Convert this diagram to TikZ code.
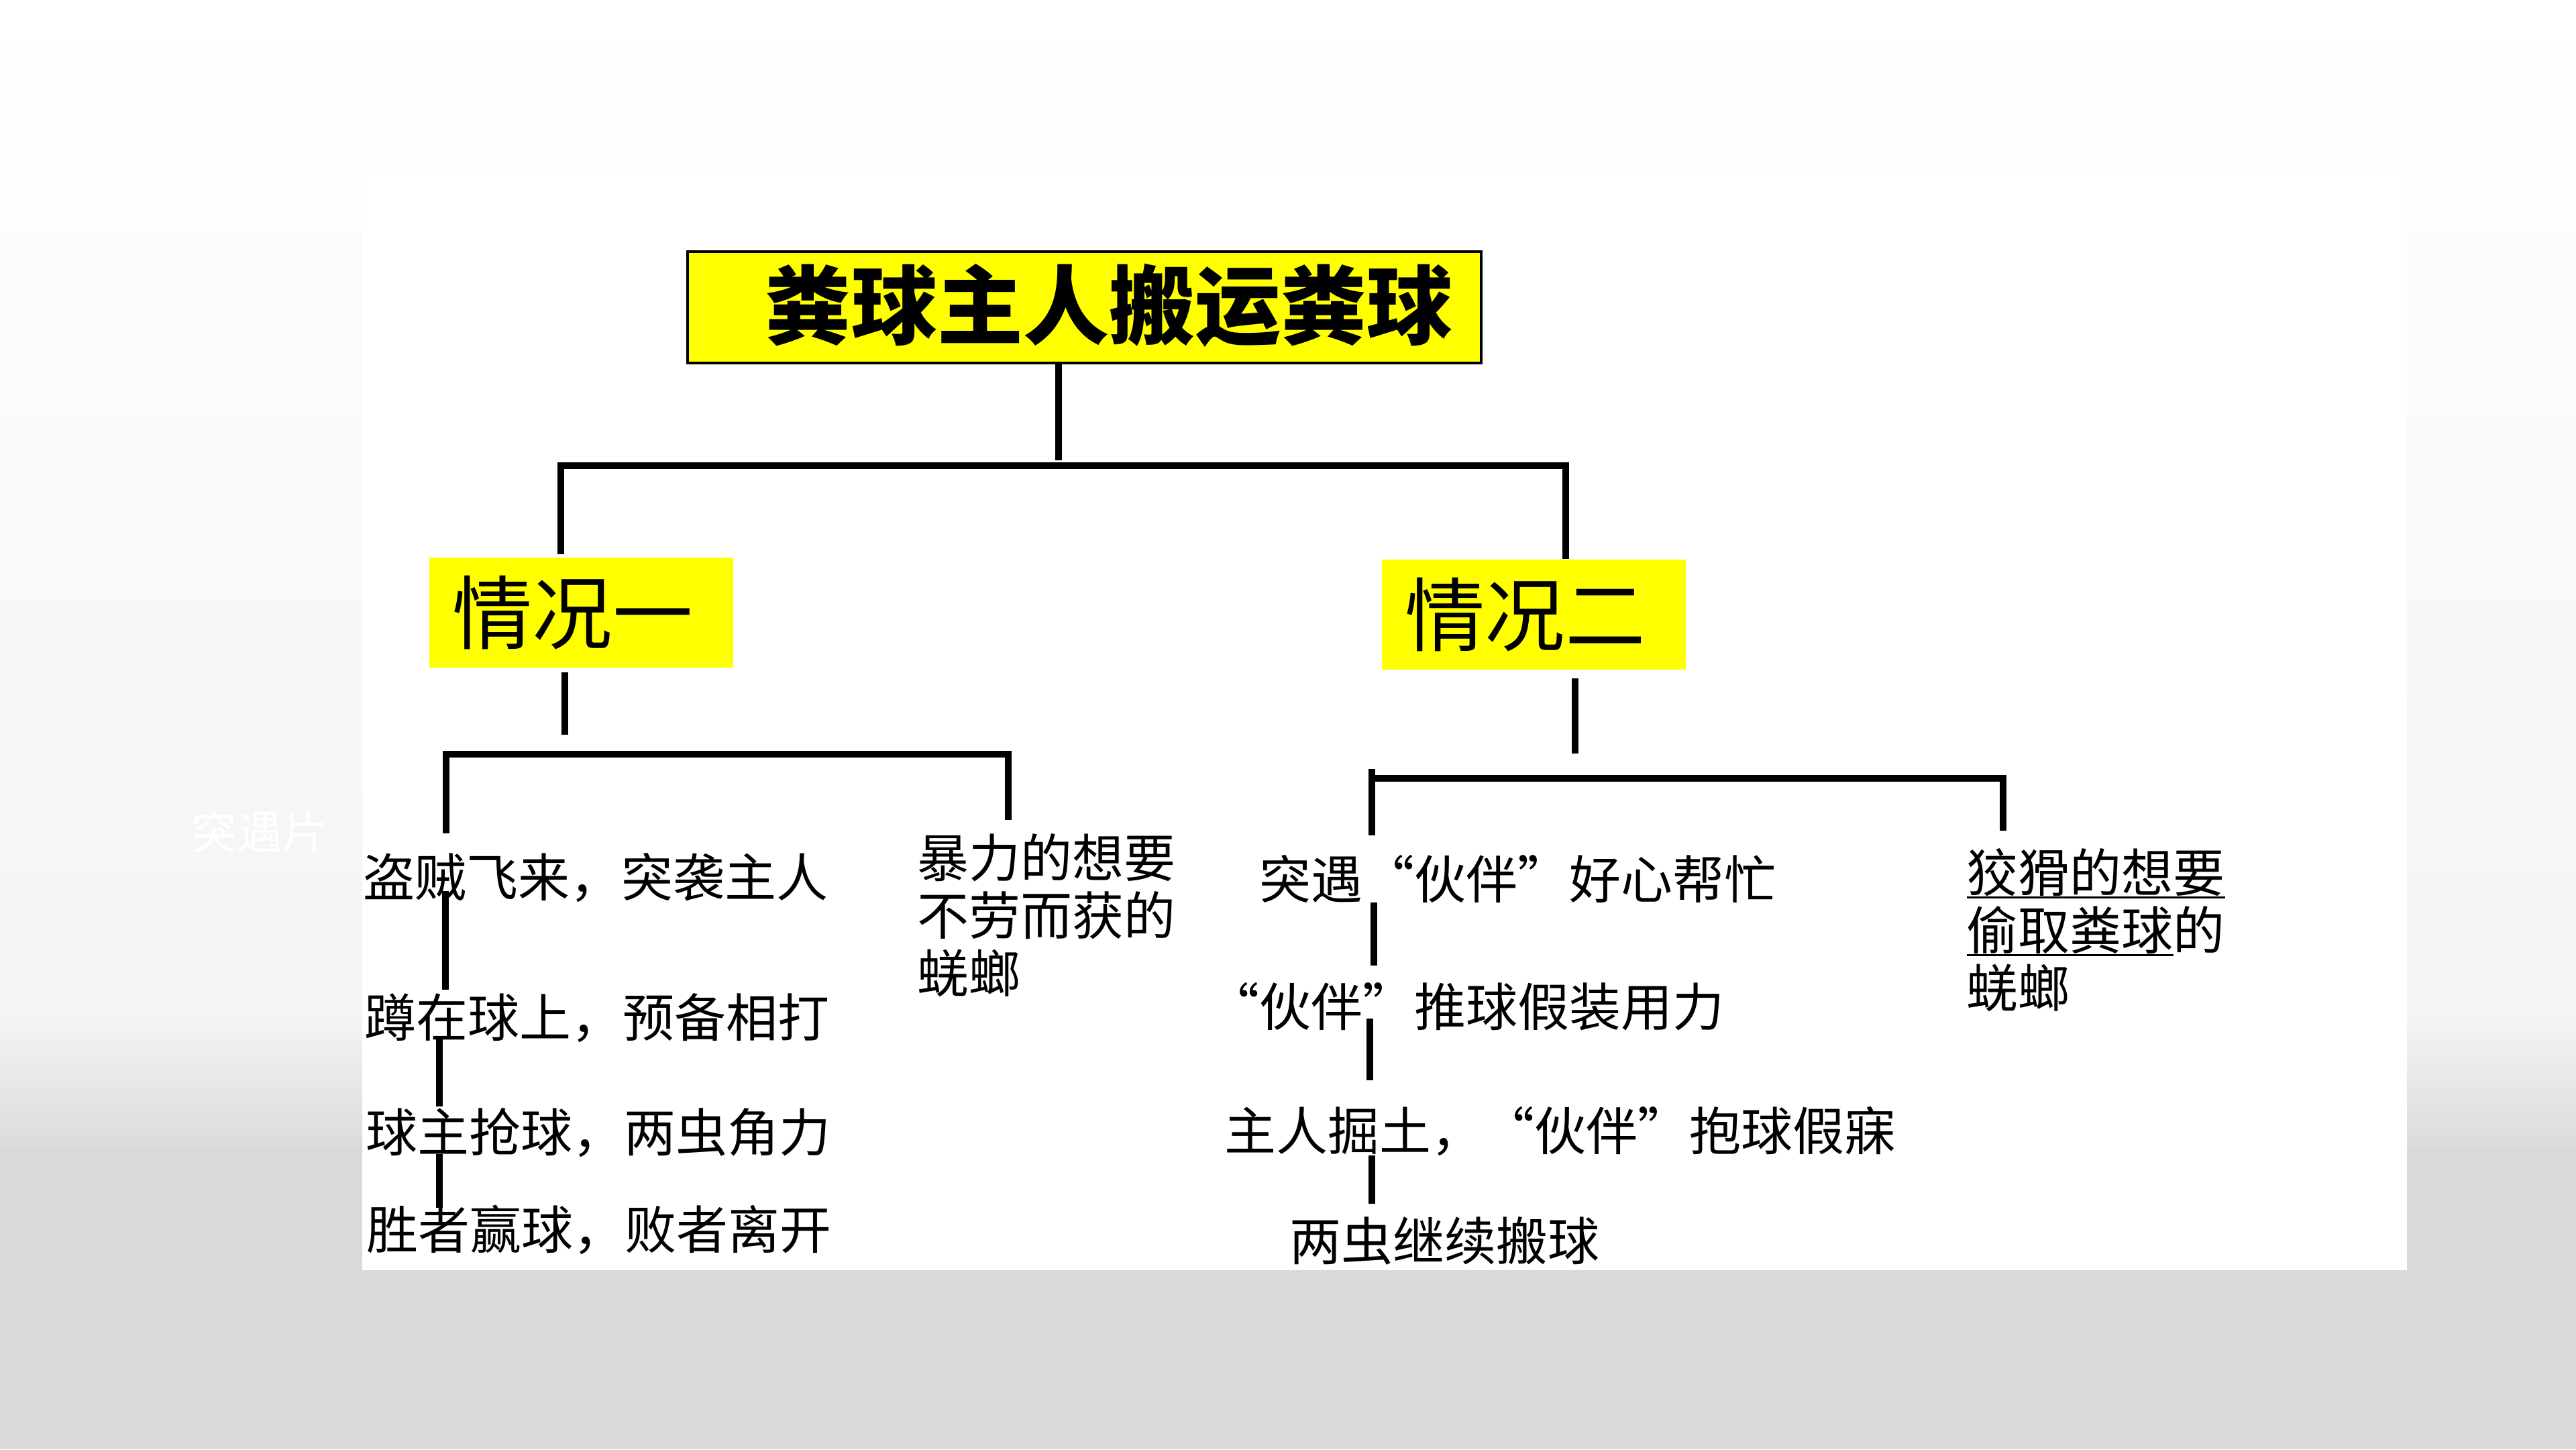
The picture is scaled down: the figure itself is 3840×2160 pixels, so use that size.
\documentclass[tikz,border=0pt]{standalone}
\usepackage{fontspec}
\newfontfamily\cjk{Noto Sans CJK SC}
\definecolor{caseyellow}{HTML}{FFFF00}
\definecolor{bgA}{HTML}{F4F4F4}
\definecolor{bgB}{HTML}{DBDBDB}
\definecolor{bgC}{HTML}{D9D9D9}
\newcommand\myul[1]{\setbox0\hbox{#1}\rlap{\rule[-0.13em]{\wd0}{1pt}}\box0}
\begin{document}
\begin{tikzpicture}[x=0.01cm,y=-0.01cm,
  conn/.style={line width=2.6pt, line join=miter, line cap=butt},
  bodytext/.style={font=\cjk\fontsize{21.9pt}{24.5pt}\selectfont, anchor=west, inner sep=0pt, align=left},
  casebox/.style={fill=caseyellow, minimum width=4.53cm, minimum height=1.64cm, inner sep=0pt, font=\cjk\fontsize{34pt}{40pt}\selectfont},
  titlebox/.style={draw=black, line width=1.1pt, fill=caseyellow, minimum width=11.83cm, minimum height=1.66cm, inner sep=0pt},
  titletext/.style={font=\cjk\bfseries\fontsize{36.4pt}{40pt}\selectfont, inner sep=0pt},
]
\useasboundingbox (0,0) rectangle (3840,2160);
% background
\shade[top color=white, bottom color=bgA] (0,0) rectangle (3840,1515);
\shade[top color=bgA, bottom color=bgB] (0,1515) rectangle (3840,1710);
\fill[bgC] (0,1710) rectangle (3840,2160);
\fill[white] (540,262) rectangle (3588,1893);
\node[text=white, font=\cjk\fontsize{19.3pt}{20pt}\selectfont, inner sep=0pt] (wm) at (387,1240) {突遇片};

% title
\node[titlebox] (T) at (1616.5,458) {};
\node[titletext] (Tt) at (1653,455) {粪球主人搬运粪球};

% cases
\node[casebox] (C1) at (866.5,913) {\hspace*{-0.26cm}情况一};
\node[casebox] (C2) at (2286.5,916) {\hspace*{-0.26cm}情况二};

% texts
\node[bodytext] (L1) at (541,1308) {盗贼飞来，突袭主人};
\node[bodytext] (L2) at (543,1517) {蹲在球上，预备相打};
\node[bodytext] (L3) at (545,1688) {球主抢球，两虫角力};
\node[bodytext] (L4) at (546,1833) {胜者赢球，败者离开};
\node[bodytext] (M1) at (1367,1364) {暴力的想要\\不劳而获的\\蜣螂};
\node[bodytext] (R1) at (1877,1310) {突遇“伙伴”好心帮忙};
\node[bodytext] (R2) at (1800,1500) {“伙伴”推球假装用力};
\node[bodytext] (R3) at (1825,1686) {主人掘土，“伙伴”抱球假寐};
\node[bodytext] (R4) at (1922,1849) {两虫继续搬球};
\node[bodytext] (M2) at (2931,1386) {\myul{狡猾的想要}\\\myul{偷取粪球}的\\蜣螂};

% connector coordinates
\coordinate (tj) at (1578,686);
\coordinate (bL) at (836,826);
\coordinate (bLc) at (836,694);
\coordinate (bRc) at (2334,694);
\coordinate (c1a) at (842,1002);
\coordinate (c1b) at (842,1095);
\coordinate (s1L) at (665,1242);
\coordinate (s1Lc) at (665,1124);
\coordinate (s1Rc) at (1503,1124);
\coordinate (s1R) at (1503,1222);
\coordinate (l1a) at (664,1328);
\coordinate (l1b) at (664,1475);
\coordinate (l2a) at (655,1547);
\coordinate (l2b) at (655,1649);
\coordinate (l3a) at (655,1720);
\coordinate (l3b) at (655,1800);
\coordinate (c2a) at (2348,1011);
\coordinate (c2b) at (2348,1123);
\coordinate (s2Lt) at (2045,1146);
\coordinate (s2L) at (2045,1245);
\coordinate (s2Lc) at (2045,1160);
\coordinate (s2Rc) at (2986,1160);
\coordinate (s2R) at (2986,1238);
\coordinate (r1a) at (2048,1345);
\coordinate (r1b) at (2048,1439);
\coordinate (r2a) at (2042,1518);
\coordinate (r2b) at (2042,1610);
\coordinate (r3a) at (2045,1722);
\coordinate (r3b) at (2045,1794);

% connectors
\draw[conn] (T.south -| tj) -- (tj);
\draw[conn] (bL) -- (bLc) -- (bRc) -- (bRc |- C2.north);
\draw[conn] (c1a) -- (c1b);
\draw[conn] (s1L) -- (s1Lc) -- (s1Rc) -- (s1R);
\draw[conn] (l1a) -- (l1b);
\draw[conn] (l2a) -- (l2b);
\draw[conn] (l3a) -- (l3b);
\draw[conn] (c2a) -- (c2b);
\draw[conn] (s2Lt) -- (s2L);
\draw[conn] (s2Lc) -- (s2Rc) -- (s2R);
\draw[conn] (r1a) -- (r1b);
\draw[conn] (r2a) -- (r2b);
\draw[conn] (r3a) -- (r3b);
\end{tikzpicture}
\end{document}
